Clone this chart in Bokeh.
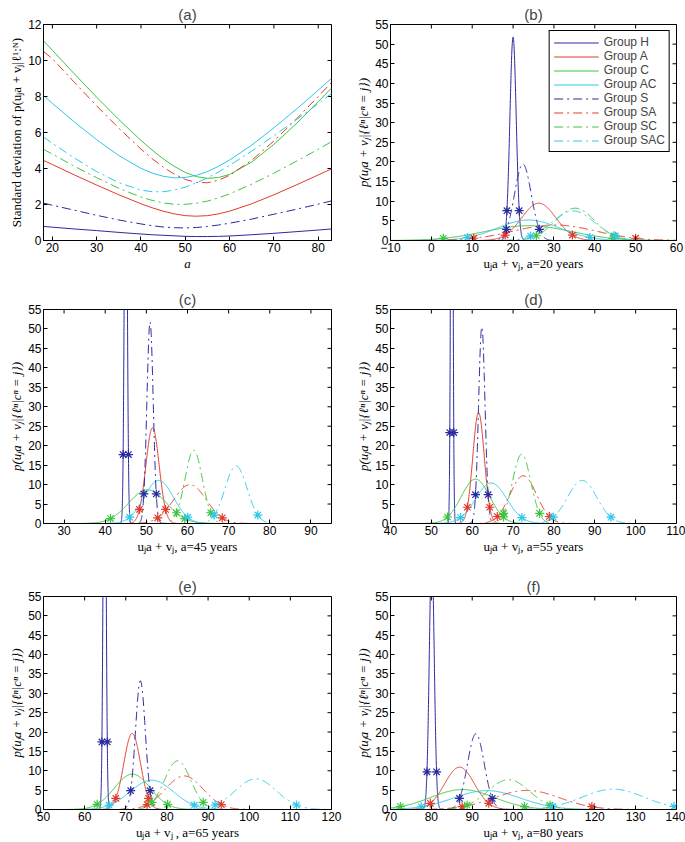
import numpy as np
from bokeh.plotting import figure
from bokeh.layouts import column, row
from bokeh.models import Range1d, FixedTicker
from bokeh.embed import file_html
from bokeh.resources import INLINE

# ---------------- data ----------------
GROUPS = ["Group H", "Group A", "Group C", "Group AC", "Group S", "Group SA", "Group SC", "Group SAC"]
COLORS = ["#2a2aa0", "#e23b2b", "#3ec43e", "#2ec8ec", "#2a2aa0", "#e23b2b", "#3ec43e", "#2ec8ec"]
DASHES = ["solid", "solid", "solid", "solid", "9 4 2 4", "9 4 2 4", "9 4 2 4", "9 4 2 4"]

# panel (a): standard deviation vs age a
age = [18, 20, 25, 30, 35, 40, 42.5, 45, 47.5, 50, 52.5, 55, 57.5, 60, 65, 70, 75, 80, 83]
sd_H = [0.78, 0.74, 0.64, 0.55, 0.45, 0.36, 0.32, 0.29, 0.26, 0.23, 0.22, 0.22, 0.23, 0.25, 0.32, 0.40, 0.49, 0.58, 0.64]
sd_A = [4.45, 4.22, 3.64, 3.08, 2.54, 2.04, 1.82, 1.63, 1.48, 1.38, 1.35, 1.38, 1.48, 1.63, 2.04, 2.54, 3.08, 3.64, 3.98]
sd_C = [11.1, 10.57, 9.25, 7.96, 6.72, 5.56, 5.03, 4.54, 4.12, 3.78, 3.55, 3.45, 3.50, 3.67, 4.36, 5.34, 6.48, 7.71, 8.47]
sd_AC = [8.05, 7.62, 6.58, 5.60, 4.72, 4.01, 3.75, 3.57, 3.48, 3.50, 3.62, 3.83, 4.12, 4.47, 5.30, 6.26, 7.28, 8.35, 9.01]
sd_S = [2.08, 1.96, 1.68, 1.40, 1.14, 0.92, 0.82, 0.75, 0.71, 0.70, 0.72, 0.78, 0.86, 0.96, 1.19, 1.46, 1.73, 2.02, 2.20]
sd_SA = [10.5, 10.10, 8.78, 7.48, 6.24, 5.08, 4.55, 4.08, 3.69, 3.39, 3.23, 3.21, 3.35, 3.62, 4.46, 5.53, 6.73, 8.00, 8.78]
sd_SC = [5.07, 4.80, 4.12, 3.49, 2.90, 2.41, 2.23, 2.09, 2.01, 2.01, 2.07, 2.19, 2.37, 2.59, 3.13, 3.74, 4.39, 5.07, 5.49]
sd_SAC = [5.75, 5.40, 4.58, 3.83, 3.21, 2.80, 2.71, 2.71, 2.80, 2.96, 3.20, 3.48, 3.81, 4.17, 4.97, 5.82, 6.70, 7.60, 8.17]
SD_CURVES = [sd_H, sd_A, sd_C, sd_AC, sd_S, sd_SA, sd_SC, sd_SAC]

# panels (b)-(f): mean and sd of each group's density (order H, A, C, AC, S, SA, SC, SAC)
mean_b = [20.0, 26.3, 23.7, 23.8, 22.4, 30.2, 35.2, 34.7]
sdev_b = [0.77, 4.2, 10.6, 7.65, 2.05, 10.1, 4.85, 5.3]
mean_c = [45.0, 51.5, 50.3, 53.0, 50.9, 60.6, 61.5, 71.8]
sdev_c = [0.33, 1.62, 4.6, 3.6, 0.77, 4.0, 2.12, 2.7]
mean_d = [55.0, 61.55, 60.8, 64.65, 62.35, 72.5, 72.1, 86.9]
sdev_d = [0.25, 1.4, 3.5, 3.83, 0.79, 3.25, 2.24, 3.6]
mean_e = [64.85, 71.55, 71.6, 76.3, 73.55, 84.2, 82.6, 101.6]
sdev_e = [0.335, 2.03, 4.37, 5.27, 1.2, 4.6, 3.17, 5.05]
mean_f = [80.1, 86.9, 87.6, 93.6, 90.9, 103.4, 98.9, 124.5]
sdev_f = [0.6, 3.65, 7.75, 8.2, 2.04, 8.1, 5.18, 7.6]

xticks_a = [20, 30, 40, 50, 60, 70, 80]
yticks_a = [0, 2, 4, 6, 8, 10, 12]
xticks_b = [-10, 0, 10, 20, 30, 40, 50, 60]
xticks_c = [30, 40, 50, 60, 70, 80, 90]
xticks_d = [40, 50, 60, 70, 80, 90, 100, 110]
xticks_e = [50, 60, 70, 80, 90, 100, 110, 120]
xticks_f = [70, 80, 90, 100, 110, 120, 130, 140]
yticks_dens = [0, 5, 10, 15, 20, 25, 30, 35, 40, 45, 50, 55]

PANELS = [
    ("(b)", mean_b, sdev_b, (-10, 60), xticks_b, "u\u2c7ca + v\u2c7c, a=20 years"),
    ("(c)", mean_c, sdev_c, (25, 95), xticks_c, "u\u2c7ca + v\u2c7c, a=45 years"),
    ("(d)", mean_d, sdev_d, (40, 110), xticks_d, "u\u2c7ca + v\u2c7c, a=55 years"),
    ("(e)", mean_e, sdev_e, (50, 120), xticks_e, "u\u2c7ca + v\u2c7c , a=65 years"),
    ("(f)", mean_f, sdev_f, (70, 140), xticks_f, "u\u2c7ca + v\u2c7c, a=80 years"),
]

# ---------------- styling ----------------
SANS = "Liberation Sans"
SERIF = "Liberation Serif"
SCALE = 100.0  # densities shown in percent
Z = 1.96       # markers at the 95% interval ends

COL_W = [353, 332]
BORDER_L = [43, 35]
BORDER_R = [22, 9]
ROW_H = [287, 287, 268]
BORDER_T = [24, 20, 20]
BORDER_B = [47, 51, 32]


def axis_style(ax, ticks):
    ax.ticker = FixedTicker(ticks=ticks)
    ax.major_tick_in = 4
    ax.major_tick_out = 0
    ax.minor_tick_line_color = None
    ax.axis_line_color = "black"
    ax.major_tick_line_color = "black"
    ax.major_label_text_font = SANS
    ax.major_label_text_font_size = "12px"
    ax.major_label_text_color = "black"
    ax.major_label_standoff = 2
    ax.axis_label_standoff = 1
    ax.axis_label_text_font = SERIF
    ax.axis_label_text_font_size = "13px"
    ax.axis_label_text_color = "black"
    ax.axis_label_text_font_style = "normal"


def make_fig(col, rw, title, xr, yr, xticks, yticks, xlabel, ylabel):
    p = figure(width=COL_W[col], height=ROW_H[rw], output_backend="svg", toolbar_location=None,
               x_range=Range1d(*xr), y_range=Range1d(*yr),
               min_border_left=BORDER_L[col], min_border_right=BORDER_R[col],
               min_border_top=BORDER_T[rw], min_border_bottom=BORDER_B[rw])
    p.title.text = title
    p.title.align = "center"
    p.title.text_font = SANS
    p.title.text_font_size = "15px"
    p.title.text_font_style = "normal"
    p.title.standoff = 3
    p.xgrid.visible = False
    p.ygrid.visible = False
    p.outline_line_color = "black"
    p.outline_line_alpha = 1
    p.background_fill_color = "white"
    p.border_fill_color = "white"
    axis_style(p.xaxis[0], xticks)
    axis_style(p.yaxis[0], yticks)
    p.xaxis[0].axis_label = xlabel
    p.yaxis[0].axis_label = ylabel
    p.xaxis[0].major_label_overrides = {t: str(t).replace("-", "\u2212") for t in xticks}
    # inward tick marks on the top and right edges of the box (half of each dash is clipped by the frame)
    p.scatter(xticks, [yr[1]] * len(xticks), marker="dash", angle=np.pi / 2, size=8,
              line_color="black", line_width=1)
    p.scatter([xr[1]] * len(yticks), yticks, marker="dash", size=8,
              line_color="black", line_width=1)
    return p


# ---------------- panel (a) ----------------
pa = make_fig(0, 0, "(a)", (18, 83), (0, 12), xticks_a, yticks_a, "a",
              "Standard deviation of p(u\u2c7ca + v\u2c7c|\u2113\u00b9:\u1d3a)")
pa.xaxis[0].axis_label_text_font_style = "italic"
for i in range(8):
    pa.line(age, SD_CURVES[i], line_color=COLORS[i], line_dash=DASHES[i], line_width=1)


# ---------------- panels (b)-(f) ----------------
def density(x, mu, sd):
    return SCALE * np.exp(-0.5 * ((x - mu) / sd) ** 2) / (sd * np.sqrt(2 * np.pi))


figs = [pa]
positions = [(1, 0), (0, 1), (1, 1), (0, 2), (1, 2)]
for k, (title, means, sds, xr, xticks, xlabel) in enumerate(PANELS):
    col, rw = positions[k]
    p = make_fig(col, rw, title, xr, (0, 55), xticks, yticks_dens, xlabel,
                 "p(u\u2c7ca + v\u2c7c|{\u2113\u207f|c\u207f = j})")
    p.yaxis[0].axis_label_text_font_style = "italic"
    for i in range(8):
        mu, sd = means[i], sds[i]
        xs = np.concatenate([np.linspace(xr[0], xr[1], 300), np.linspace(mu - 6 * sd, mu + 6 * sd, 400)])
        xs = np.unique(xs[(xs >= xr[0]) & (xs <= xr[1])])
        kw = dict(line_color=COLORS[i], line_dash=DASHES[i], line_width=1)
        if k == 0:
            kw["legend_label"] = GROUPS[i]
        p.line(xs, density(xs, mu, sd), **kw)
    for i in range(8):
        mu, sd = means[i], sds[i]
        mx = np.array([mu - Z * sd, mu + Z * sd])
        p.scatter(mx, density(mx, mu, sd), marker="asterisk", size=9,
                  line_color=COLORS[i], line_width=1.2)
    if k == 0:
        lg = p.legend[0]
        lg.location = "top_right"
        lg.margin = 6
        lg.padding = 4
        lg.spacing = 0
        lg.label_height = 13
        lg.glyph_height = 13
        lg.glyph_width = 45
        lg.label_standoff = 5
        lg.label_text_font = SANS
        lg.label_text_font_size = "12px"
        lg.border_line_color = "black"
        lg.border_line_alpha = 1
        lg.background_fill_alpha = 1
    figs.append(p)

layout = column(row(figs[0], figs[1]), row(figs[2], figs[3]), row(figs[4], figs[5]))
open("out.html", "w").write(file_html(layout, INLINE))
